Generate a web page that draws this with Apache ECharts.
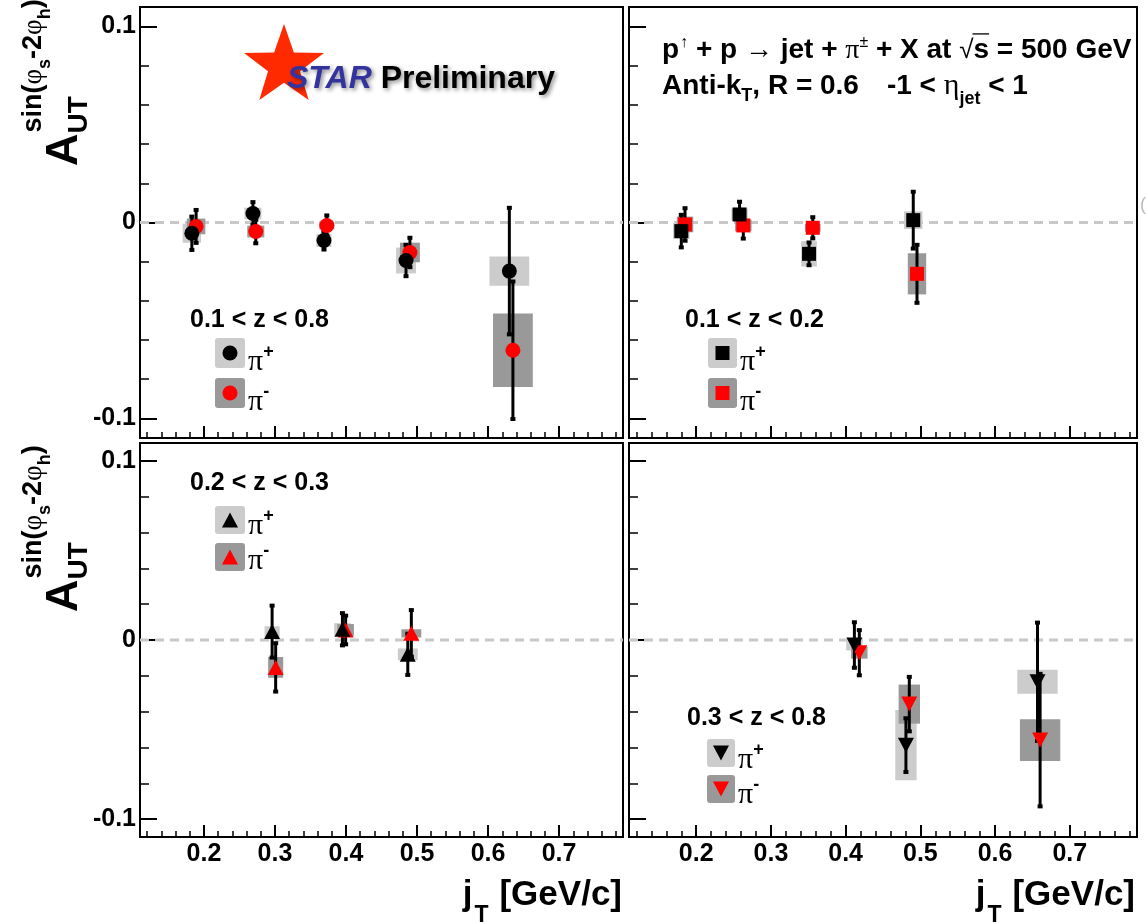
<!DOCTYPE html>
<html>
<head>
<meta charset="utf-8">
<title>Collins-like asymmetry vs jT</title>
<script src="https://cdn.jsdelivr.net/npm/echarts@6/dist/echarts.min.js"></script>
<style>
  html, body { margin: 0; padding: 0; background: #ffffff; }
  #chart { width: 1146px; height: 923px; }
</style>
</head>
<body>
<div id="chart"></div>
<script>
// ---- data: [jT (GeV/c), A_UT, stat. error, syst. error, syst. box half-width in jT] ----
const z01to08Plus = [
  [0.183, -0.0055, 0.0085, 0.0048, 0.013],
  [0.269,  0.0046, 0.0058, 0.0030, 0.012],
  [0.369, -0.0092, 0.0046, 0.0033, 0.0105],
  [0.4845,-0.0194, 0.0080, 0.0066, 0.014],
  [0.630, -0.0248, 0.0323, 0.0075, 0.028]
];
const z01to08Minus = [
  [0.189, -0.0020, 0.0084, 0.0040, 0.013],
  [0.273, -0.0046, 0.0060, 0.0030, 0.012],
  [0.373, -0.0015, 0.0051, 0.0020, 0.0105],
  [0.490, -0.0153, 0.0075, 0.0050, 0.014],
  [0.635, -0.0652, 0.0351, 0.0188, 0.028]
];
const z01to02Plus = [
  [0.180, -0.0044, 0.0083, 0.0040, 0.011],
  [0.258,  0.0041, 0.0065, 0.0030, 0.011],
  [0.351, -0.0160, 0.0058, 0.0065, 0.0105],
  [0.4905, 0.0012, 0.0145, 0.0045, 0.0123]
];
const z01to02Minus = [
  [0.185, -0.0010, 0.0083, 0.0040, 0.011],
  [0.263, -0.0015, 0.0067, 0.0030, 0.011],
  [0.356, -0.0027, 0.0054, 0.0020, 0.0105],
  [0.4955,-0.0262, 0.0148, 0.0105, 0.0123]
];
const z02to03Plus = [
  [0.296,  0.0047, 0.0145, 0.0030, 0.0106],
  [0.395,  0.0060, 0.0090, 0.0034, 0.0117],
  [0.487, -0.0080, 0.0115, 0.0033, 0.014]
];
const z02to03Minus = [
  [0.301, -0.0153, 0.0135, 0.0058, 0.0106],
  [0.3995, 0.0056, 0.0080, 0.0033, 0.0117],
  [0.492,  0.0037, 0.0130, 0.0023, 0.014]
];
const z03to08Plus = [
  [0.4117,-0.0028, 0.0127, 0.0030, 0.011],
  [0.4807,-0.0587, 0.0150, 0.0196, 0.0143],
  [0.6568,-0.0233, 0.0330, 0.0067, 0.027]
];
const z03to08Minus = [
  [0.4183,-0.0071, 0.0126, 0.0033, 0.011],
  [0.4852,-0.0358, 0.0152, 0.0109, 0.0143],
  [0.6603,-0.0559, 0.0370, 0.0116, 0.027]
];
const zBinLabels = ['0.1 < z < 0.8', '0.1 < z < 0.2', '0.2 < z < 0.3', '0.3 < z < 0.8'];
const jtRange = [0.11, 0.79];
const asymRange = [-0.11, 0.11];

// ---- style ----
const SANS = '"Liberation Sans", Arial, Helvetica, sans-serif';
const SERIF = '"Liberation Serif", "DejaVu Serif", serif';
const COL_PLUS = '#000000';
const COL_MINUS = '#ff0000';
const BOX_PLUS = '#cccccc';
const BOX_MINUS = '#999999';

const panels = [
  { plus: z01to08Plus, minus: z01to08Minus, symbol: 'circle', size: 15, rot: 0,
    box: { left: 140, top: 7, width: 483, height: 431 }, xLabels: false, yLabels: true },
  { plus: z01to02Plus, minus: z01to02Minus, symbol: 'rect', size: 14, rot: 0,
    box: { left: 629, top: 7, width: 508, height: 431 }, xLabels: false, yLabels: false },
  { plus: z02to03Plus, minus: z02to03Minus, symbol: 'triangle', size: [16, 15], rot: 0,
    box: { left: 140, top: 443, width: 483, height: 394 }, xLabels: true, yLabels: true },
  { plus: z03to08Plus, minus: z03to08Minus, symbol: 'triangle', size: [16, 15], rot: 180,
    box: { left: 629, top: 443, width: 508, height: 394 }, xLabels: true, yLabels: false }
];

// ---- text helpers (baseline-aligned runs of mixed fonts) ----
const mctx = document.createElement('canvas').getContext('2d');
function fontOf(p) {
  return (p.italic ? 'italic ' : '') + (p.weight || 'bold') + ' ' + p.size + 'px ' + (p.family || SANS);
}
function measure(text, font) { mctx.font = font; return mctx.measureText(text).width; }
function baselineShift(font) {
  mctx.font = font;
  mctx.textBaseline = 'alphabetic';
  const a = mctx.measureText('H').actualBoundingBoxAscent;
  mctx.textBaseline = 'middle';
  const m = mctx.measureText('H').actualBoundingBoxAscent;
  mctx.textBaseline = 'alphabetic';
  return a - m;
}
function textRun(x0, y0, pieces, opt) {
  opt = opt || {};
  const items = pieces.map(p => {
    const font = fontOf(p);
    return { p: p, font: font, w: measure(p.t, font), off: baselineShift(font) };
  });
  let total = 0;
  items.forEach(it => { total += (it.p.dx || 0) + it.w; });
  let adv = opt.alignRight ? -total : 0;
  const els = [];
  items.forEach(it => {
    adv += it.p.dx || 0;
    const v = (it.p.dy || 0) - it.off;
    const pos = opt.vertical ? [x0 + v, y0 - adv] : [x0 + adv, y0 + v];
    const style = {
      text: it.p.t, font: it.font, fill: it.p.color || '#000',
      align: 'left', verticalAlign: 'middle'
    };
    if (opt.shadow) {
      style.textShadowColor = 'rgba(0,0,0,0.45)';
      style.textShadowBlur = 4;
      style.textShadowOffsetX = 2;
      style.textShadowOffsetY = 2;
    }
    els.push({ type: 'text', silent: true, x: pos[0], y: pos[1],
      rotation: opt.vertical ? Math.PI / 2 : 0, style: style });
    if (it.p.over && !opt.vertical) {
      const yb = y0 + (it.p.dy || 0) - it.p.size * 0.86;
      els.push({ type: 'line', silent: true,
        shape: { x1: x0 + adv - 1, y1: yb, x2: x0 + adv + it.w, y2: yb },
        style: { stroke: '#000', lineWidth: 1.3 } });
    }
    adv += it.w;
  });
  return els;
}

// ---- axes ----
const grids = [], xAxes = [], yAxes = [], series = [];
panels.forEach((pn, i) => {
  grids.push(Object.assign({ show: true, borderColor: '#000', borderWidth: 2,
    backgroundColor: 'transparent', containLabel: false }, pn.box));
  xAxes.push({
    type: 'value', gridIndex: i, min: jtRange[0], max: jtRange[1],
    minInterval: 0.1, maxInterval: 0.1, splitNumber: 7,
    axisLine: { show: true, onZero: false, lineStyle: { color: '#000', width: 2 } },
    axisTick: { show: true, inside: true, length: 12, lineStyle: { color: '#000', width: 2 } },
    minorTick: { show: true, splitNumber: 5, length: 6, lineStyle: { color: '#000', width: 1.5 } },
    splitLine: { show: false }, minorSplitLine: { show: false },
    axisLabel: { show: pn.xLabels, showMinLabel: false, showMaxLabel: false, margin: 5,
      fontFamily: SANS, fontWeight: 'bold', fontSize: 25, color: '#000' }
  });
  yAxes.push({
    type: 'value', gridIndex: i, min: asymRange[0], max: asymRange[1],
    minInterval: 0.1, maxInterval: 0.1, splitNumber: 2,
    axisLine: { show: true, onZero: false, lineStyle: { color: '#000', width: 2 } },
    axisTick: { show: true, inside: true, length: 17, lineStyle: { color: '#000', width: 2 } },
    minorTick: { show: true, splitNumber: 5, length: 9, lineStyle: { color: '#000', width: 1.5 } },
    splitLine: { show: false }, minorSplitLine: { show: false },
    axisLabel: { show: pn.yLabels, showMinLabel: false, showMaxLabel: false, margin: 4,
      fontFamily: SANS, fontWeight: 'bold', fontSize: 25, color: '#000' }
  });

  // dashed zero line across the frame
  series.push({
    type: 'custom', xAxisIndex: i, yAxisIndex: i, silent: true,
    data: [[jtRange[0], 0]], encode: { x: 0, y: 1 },
    renderItem: (params, api) => {
      const cs = params.coordSys;
      const p = api.coord([api.value(0), api.value(1)]);
      return { type: 'line', shape: { x1: cs.x, y1: p[1], x2: cs.x + cs.width, y2: p[1] },
        style: { stroke: '#c8c8c8', lineWidth: 3, lineDash: [9, 6] } };
    }
  });

  const boxSeries = (data, fill) => ({
    type: 'custom', xAxisIndex: i, yAxisIndex: i, silent: true, data: data,
    encode: { x: 0, y: 1 },
    renderItem: (params, api) => {
      const x = api.value(0), y = api.value(1), s = api.value(3), w = api.value(4);
      const a = api.coord([x - w, y + s]);
      const b = api.coord([x + w, y - s]);
      return { type: 'rect', shape: { x: a[0], y: a[1], width: b[0] - a[0], height: b[1] - a[1] },
        style: { fill: fill } };
    }
  });
  const barSeries = (data) => ({
    type: 'custom', xAxisIndex: i, yAxisIndex: i, silent: true, data: data,
    encode: { x: 0, y: 1 },
    renderItem: (params, api) => {
      const x = api.value(0), y = api.value(1), e = api.value(2);
      const t = api.coord([x, y + e]);
      const b = api.coord([x, y - e]);
      return { type: 'group', children: [
        { type: 'line', shape: { x1: t[0], y1: t[1], x2: b[0], y2: b[1] },
          style: { stroke: '#000', lineWidth: 3 } },
        { type: 'rect', shape: { x: t[0] - 2.5, y: t[1] - 2, width: 5, height: 4 }, style: { fill: '#000' } },
        { type: 'rect', shape: { x: b[0] - 2.5, y: b[1] - 2, width: 5, height: 4 }, style: { fill: '#000' } }
      ] };
    }
  });
  const markerSeries = (data, color) => ({
    type: 'scatter', xAxisIndex: i, yAxisIndex: i, silent: true,
    data: data.map(d => [d[0], d[1]]),
    symbol: pn.symbol, symbolSize: pn.size, symbolRotate: pn.rot,
    itemStyle: { color: color, opacity: 1 }
  });

  series.push(boxSeries(pn.plus, BOX_PLUS));
  series.push(boxSeries(pn.minus, BOX_MINUS));
  series.push(barSeries(pn.minus));
  series.push(markerSeries(pn.minus, COL_MINUS));
  series.push(barSeries(pn.plus));
  series.push(markerSeries(pn.plus, COL_PLUS));
});

// ---- decorations: titles, legends, logo ----
let gfx = [];

// y-axis titles  A_UT^{sin(phi_s - 2 phi_h)}
function yTitle(yStart) {
  const aPiece = { t: 'A', size: 45 };
  const wA = measure('A', fontOf(aPiece));
  gfx = gfx.concat(textRun(77, yStart, [aPiece], { vertical: true }));
  gfx = gfx.concat(textRun(87, yStart - wA, [{ t: 'UT', size: 28 }], { vertical: true }));
  gfx = gfx.concat(textRun(41, yStart - wA - 1, [
    { t: 'sin(', size: 27 },
    { t: 'φ', size: 27, weight: 'normal', family: SERIF },
    { t: 's', size: 18, dy: 9 },
    { t: '-2', size: 27 },
    { t: 'φ', size: 27, weight: 'normal', family: SERIF },
    { t: 'h', size: 18, dy: 9 },
    { t: ')', size: 27 }
  ], { vertical: true }));
}
yTitle(166);
yTitle(612);

// x-axis titles  j_T [GeV/c]
function xTitle(xRight) {
  gfx = gfx.concat(textRun(xRight, 905, [
    { t: 'j', size: 35 },
    { t: 'T', size: 23, dy: 17, dx: 2 },
    { t: '[GeV/c]', size: 35, dx: 11 }
  ], { alignRight: true }));
}
xTitle(622);
xTitle(1135);

// STAR logo
(function () {
  const cx = 284, cy = 66, R = 42, r = R * 0.4;
  const pts = [];
  for (let k = 0; k < 10; k++) {
    const ang = -Math.PI / 2 + k * Math.PI / 5;
    const rad = k % 2 === 0 ? R : r;
    pts.push([cx + rad * Math.cos(ang), cy + rad * Math.sin(ang)]);
  }
  gfx.push({ type: 'polygon', silent: true, shape: { points: pts }, style: { fill: '#ff2a00' } });
  gfx = gfx.concat(textRun(287, 88, [
    { t: 'STAR', size: 32, italic: true, color: '#3333a0' },
    { t: ' Preliminary', size: 32 }
  ], { shadow: true }));
})();

// reaction / jet definition
gfx = gfx.concat(textRun(662, 58, [
  { t: 'p', size: 28 },
  { t: '↑', size: 16, weight: 'normal', dy: -11, dx: 1 },
  { t: ' + p ', size: 28 },
  { t: '→', size: 28, weight: 'normal', family: SERIF },
  { t: ' jet + ', size: 28 },
  { t: 'π', size: 28, weight: 'normal', family: SERIF },
  { t: '±', size: 16, weight: 'normal', dy: -11 },
  { t: ' + X at ', size: 28 },
  { t: '√', size: 26, weight: 'normal' },
  { t: 's', size: 28, over: true },
  { t: ' = 500 GeV', size: 28 }
]));
gfx = gfx.concat(textRun(662, 94, [
  { t: 'Anti-k', size: 28 },
  { t: 'T', size: 18, dy: 7 },
  { t: ', R = 0.6', size: 28 },
  { t: '-1 < ', size: 28, dx: 28 },
  { t: 'η', size: 30, weight: 'normal', family: SERIF },
  { t: 'jet', size: 18, dy: 10 },
  { t: ' < 1', size: 28 }
]));

// legends
function legendMarker(kind, cx, cy, color) {
  if (kind === 'circle') return { type: 'circle', silent: true, shape: { cx: cx, cy: cy, r: 7.5 }, style: { fill: color } };
  if (kind === 'rect') return { type: 'rect', silent: true, shape: { x: cx - 7, y: cy - 7, width: 14, height: 14 }, style: { fill: color } };
  if (kind === 'up') return { type: 'polygon', silent: true, shape: { points: [[cx, cy - 7.5], [cx + 8, cy + 7.5], [cx - 8, cy + 7.5]] }, style: { fill: color } };
  return { type: 'polygon', silent: true, shape: { points: [[cx - 8, cy - 7.5], [cx + 8, cy - 7.5], [cx, cy + 7.5]] }, style: { fill: color } };
}
const legends = [
  { label: zBinLabels[0], lx: 190, ly: 327, bx: 215, bw: 30, bh: 30, by: [338, 378], py: [370, 410], kind: 'circle' },
  { label: zBinLabels[1], lx: 685, ly: 327, bx: 708, bw: 29, bh: 30, by: [338, 378], py: [370, 410], kind: 'rect' },
  { label: zBinLabels[2], lx: 190, ly: 490, bx: 215, bw: 30, bh: 28, by: [506, 543], py: [534, 569], kind: 'up' },
  { label: zBinLabels[3], lx: 687, ly: 725, bx: 707, bw: 28, bh: 28, by: [739, 775], py: [768, 803], kind: 'down' }
];
legends.forEach(lg => {
  gfx = gfx.concat(textRun(lg.lx, lg.ly, [{ t: lg.label, size: 25 }]));
  [[BOX_PLUS, COL_PLUS, '+'], [BOX_MINUS, COL_MINUS, '-']].forEach((c, k) => {
    const y = lg.by[k];
    gfx.push({ type: 'rect', silent: true, shape: { x: lg.bx, y: y, width: lg.bw, height: lg.bh, r: 3 }, style: { fill: c[0] } });
    gfx.push(legendMarker(lg.kind, lg.bx + lg.bw / 2, y + lg.bh / 2, c[1]));
    gfx = gfx.concat(textRun(lg.bx + lg.bw + 3, lg.py[k], [
      { t: 'π', size: 30, weight: 'normal', family: SERIF },
      { t: c[2], size: 18, dy: -13 }
    ]));
  });
});

// clipped glyph at the right margin
gfx.push({ type: 'text', silent: true, x: 1140, y: 205,
  style: { text: '(', font: 'normal 18px ' + SANS, fill: '#bbbbbb', align: 'left', verticalAlign: 'middle' } });

const chart = echarts.init(document.getElementById('chart'), null, { renderer: 'canvas', width: 1146, height: 923 });
chart.setOption({
  animation: false,
  backgroundColor: '#ffffff',
  grid: grids,
  xAxis: xAxes,
  yAxis: yAxes,
  series: series,
  graphic: { elements: gfx }
});
</script>
</body>
</html>
